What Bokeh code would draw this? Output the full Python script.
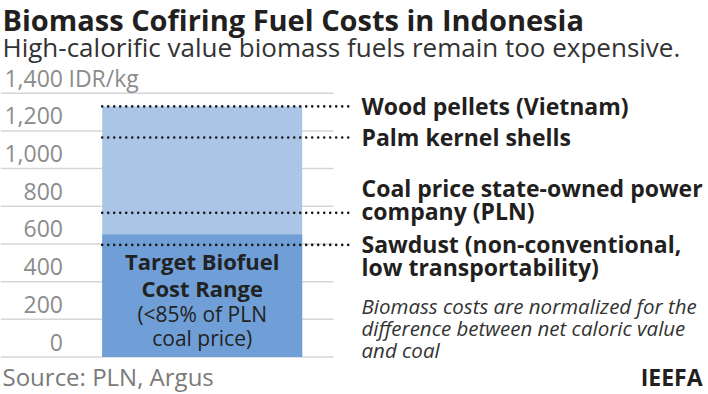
from bokeh.plotting import figure
from bokeh.models import Range1d
from bokeh.core.properties import value
from bokeh.embed import file_html
from bokeh.resources import INLINE

# ---------------- data ----------------
tick_values = [0, 200, 400, 600, 800, 1000, 1200, 1400]
tick_labels = ["0", "200", "400", "600", "800", "1,000", "1,200", "1,400"]
unit_label = "IDR/kg"

fuel_names = ["Wood pellets (Vietnam)", "Palm kernel shells",
              "Coal price state-owned power company (PLN)",
              "Sawdust (non-conventional, low transportability)"]
fuel_lines = [["Wood pellets (Vietnam)"],
              ["Palm kernel shells"],
              ["Coal price state-owned power", "company (PLN)"],
              ["Sawdust (non-conventional,", "low transportability)"]]
fuel_costs = [1330, 1165, 765, 595]

range_max = 1330          # top of biomass cost range (wood pellets)
target_max = 650          # <85% of PLN coal price
bar_lines = ["Target Biofuel", "Cost Range", "(<85% of PLN", "coal price)"]
bar_bold = [True, True, False, False]

title = "Biomass Cofiring Fuel Costs in Indonesia"
subtitle = "High-calorific value biomass fuels remain too expensive."
note_lines = ["Biomass costs are normalized for the",
              "difference between net caloric value",
              "and coal"]
source = "Source: PLN, Argus"
brand = "IEEFA"

# ---------------- layout helpers ----------------
W, H = 706, 392
ZERO_PX, TOP_PX = 356.5, 92.7          # canvas y of the 0 and 1,400 gridlines
PPU = (ZERO_PX - TOP_PX) / 1400.0
DY = -8                                 # baseline correction for text rendering


def vy(sy):
    """canvas y (px from top) -> data value"""
    return (ZERO_PX - sy) / PPU


def ty(sy):
    """text baseline position (canvas px) -> data value"""
    return vy(sy + DY)


FONT = value("Open Sans")
DARK = "#231f20"
GREY = "#8c8c8c"

p = figure(width=W, height=H, output_backend="svg", toolbar_location=None,
           x_range=Range1d(0, W), y_range=Range1d(vy(H), vy(0)),
           min_border=0, outline_line_color=None, background_fill_color="white",
           border_fill_color="white")
p.axis.visible = False
p.grid.visible = False

# gridlines
p.segment(x0=[0] * len(tick_values), x1=[333] * len(tick_values),
          y0=tick_values, y1=tick_values, line_color="#d6d6d6", line_width=1.5)

# bars
BAR_L, BAR_R = 101.7, 301.7
p.quad(left=[BAR_L], right=[BAR_R], bottom=[0], top=[range_max],
       fill_color="#abc5e7", line_color=None)
p.quad(left=[BAR_L], right=[BAR_R], bottom=[0], top=[target_max],
       fill_color="#6f9fd6", line_color=None)

# dotted reference lines
p.segment(x0=[BAR_L] * len(fuel_costs), x1=[350] * len(fuel_costs),
          y0=fuel_costs, y1=fuel_costs, line_color="#1a1a1a", line_width=2.6,
          line_dash="0 6", line_cap="round")

# tick labels
p.text(x=[62.5] * len(tick_values), y=tick_values, text=tick_labels,
       text_font=FONT, text_font_size="23px", text_color=GREY,
       text_align="right", text_baseline="alphabetic", y_offset=-7 + DY)
p.text(x=[68], y=[tick_values[-1]], text=[unit_label],
       text_font=FONT, text_font_size="23px", text_color=GREY,
       text_align="left", text_baseline="alphabetic", y_offset=-7 + DY)

# fuel labels on the right
LBL_X = 361
for lines, c in zip(fuel_lines, fuel_costs):
    if len(lines) == 1:
        offs = [8]
    elif lines[0].startswith("Coal"):
        offs = [-17, 6.5]
    else:
        offs = [7.5, 30.5]
    for t, o in zip(lines, offs):
        p.text(x=[LBL_X], y=[c], text=[t], text_font=FONT, text_font_size="23px",
               text_font_style="bold", text_color=DARK, text_align="left",
               text_baseline="alphabetic", y_offset=o + DY)

# text inside the bar
BAR_C = (BAR_L + BAR_R) / 2
for t, b, sy in zip(bar_lines, bar_bold, [268, 295, 321.5, 345]):
    p.text(x=[BAR_C], y=[ty(sy)], text=[t], text_font=FONT,
           text_font_size="22px" if b else "21px",
           text_font_style="bold" if b else "normal", text_color="#222222",
           text_align="center", text_baseline="alphabetic")

# note
for t, sy in zip(note_lines, [313.5, 335.5, 357.5]):
    p.text(x=[LBL_X], y=[ty(sy)], text=[t], text_font=FONT, text_font_size="20.5px",
           text_font_style="italic", text_color="#333333", text_align="left",
           text_baseline="alphabetic")

# title, subtitle
p.text(x=[2], y=[ty(27)], text=[title], text_font=FONT, text_font_size="29px",
       text_font_style="bold", text_color=DARK, text_align="left",
       text_baseline="alphabetic")
p.text(x=[2], y=[ty(54.5)], text=[subtitle], text_font=FONT, text_font_size="26px",
       text_color="#333333", text_align="left", text_baseline="alphabetic")

# footer
p.text(x=[2], y=[ty(384)], text=[source], text_font=FONT, text_font_size="24px",
       text_color="#7a7a7a", text_align="left", text_baseline="alphabetic")
p.text(x=[702], y=[ty(384)], text=[brand], text_font=FONT, text_font_size="23px",
       text_font_style="bold", text_color=DARK, text_align="right",
       text_baseline="alphabetic")

open("out.html", "w").write(file_html(p, INLINE))
